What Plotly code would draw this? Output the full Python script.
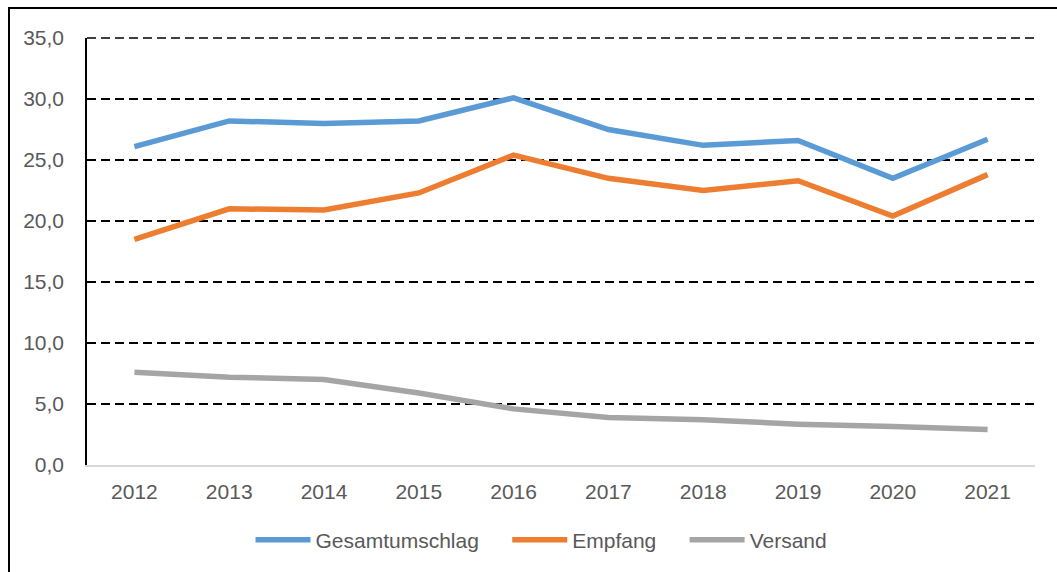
import plotly.graph_objects as go

years = ["2012", "2013", "2014", "2015", "2016", "2017", "2018", "2019", "2020", "2021"]
gesamtumschlag = [26.1, 28.2, 28.0, 28.2, 30.1, 27.5, 26.2, 26.6, 23.5, 26.7]
empfang = [18.5, 21.0, 20.9, 22.3, 25.4, 23.5, 22.5, 23.3, 20.4, 23.8]
versand = [7.6, 7.2, 7.0, 5.9, 4.6, 3.9, 3.7, 3.35, 3.15, 2.9]
y_ticks = [0, 5, 10, 15, 20, 25, 30, 35]

series = [
    ("Gesamtumschlag", gesamtumschlag, "#5B9BD5"),
    ("Empfang", empfang, "#ED7D31"),
    ("Versand", versand, "#A5A5A5"),
]

NBSP = "\u00a0"
GRID_DASH = "9px,5px"

fig = go.Figure()
for name, vals, color in series:
    fig.add_trace(go.Scatter(
        x=years, y=vals, name=name + NBSP * 4, mode="lines",
        line=dict(color=color, width=5.5, shape="linear"),
    ))

W, H = 1057, 572
ml, mr, mt, mb = 87, 22, 38, 107
pw, ph = W - ml - mr, H - mt - mb

fig.update_layout(
    width=W, height=H,
    margin=dict(l=ml, r=mr, t=mt, b=mb, autoexpand=False),
    paper_bgcolor="white", plot_bgcolor="white",
    separators=",.",
    font=dict(family="Liberation Sans, Arial, sans-serif", size=21, color="#595959"),
    showlegend=True,
    legend=dict(
        orientation="h", x=(553 - ml) / pw, xanchor="center",
        y=-(540 - (H - mb)) / ph, yanchor="middle",
        font=dict(size=21, color="#595959"), itemwidth=55, traceorder="normal",
        bgcolor="rgba(0,0,0,0)",
    ),
    xaxis=dict(
        type="category", range=[-0.5, len(years) - 0.5],
        showgrid=False, showline=True, linecolor="#D9D9D9", linewidth=1.5,
        ticks="", ticklabelstandoff=7, zeroline=False, automargin=False,
    ),
    yaxis=dict(
        range=[y_ticks[0], y_ticks[-1]], tickvals=y_ticks, tickformat=".1f",
        showgrid=True, gridcolor="black", gridwidth=1.5, griddash=GRID_DASH,
        showline=True, linecolor="black", linewidth=1.5, zeroline=False,
        ticks="", ticklabelstandoff=17, automargin=False,
    ),
)

# top gridline at the axis maximum (plotly clips grid lines at the range end)
fig.add_shape(
    type="line", xref="paper", yref="paper", x0=0, x1=1, y0=1, y1=1,
    line=dict(color="black", width=1.5, dash=GRID_DASH), layer="below",
)

# outer chart border (frame)
fig.add_shape(
    type="rect", xref="paper", yref="paper",
    x0=(9 - ml) / pw, x1=(W + 10 - ml) / pw,
    y0=-(H + 10 - mt - ph) / ph, y1=(H - 8 - mb) / ph,
    line=dict(color="black", width=2), fillcolor="rgba(0,0,0,0)", layer="below",
)

fig.write_html(
    "out.html",
    config={"displayModeBar": False},
    post_script="document.body.style.margin='0';document.body.style.overflow='hidden';",
)
